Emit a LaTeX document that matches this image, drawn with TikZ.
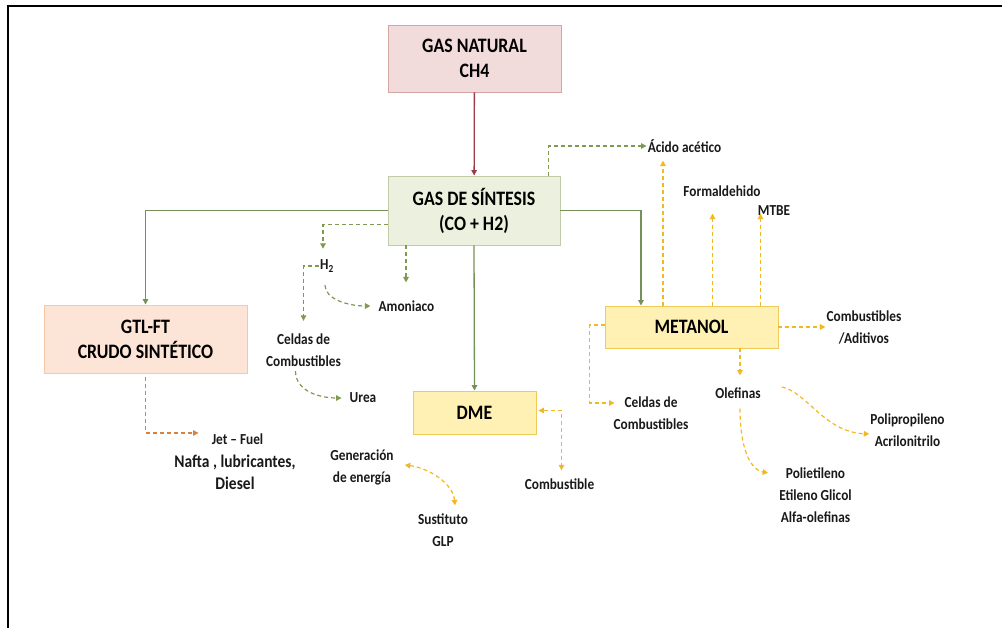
\documentclass[tikz,border=0pt]{standalone}
\usepackage{fontspec}
\setmainfont{Carlito}[FakeStretch=0.87]
\usetikzlibrary{arrows.meta}
\newcommand\myfs[2]{\fontsize{#1}{#2}\selectfont}
\definecolor{gline}{HTML}{76905A}
\definecolor{rline}{HTML}{9B3B4B}
\definecolor{gdashc}{HTML}{7F9A4F}
\definecolor{ydashc}{HTML}{F2B822}
\definecolor{odashc}{HTML}{D9823E}
\definecolor{pinkfill}{HTML}{F2DCDB}
\definecolor{pinkdraw}{HTML}{D4A5A5}
\definecolor{greenfill}{HTML}{EBF1DE}
\definecolor{greendraw}{HTML}{BFCCA6}
\definecolor{peachfill}{HTML}{FCE4D6}
\definecolor{peachdraw}{HTML}{F6C9A6}
\definecolor{yelfill}{HTML}{FFF1B3}
\definecolor{yeldraw}{HTML}{EFCB5A}
\begin{document}
\begin{tikzpicture}[x=1pt,y=-1pt,
  box/.style={draw, line width=0.9pt, font=\bfseries\myfs{20.5}{25}, align=center, inner sep=0pt, text=black},
  lab/.style={font=\bfseries\myfs{15.3}{22}, align=center, inner sep=1pt, text=black!90},
  arr/.style={-{Triangle[length=5.5pt,width=5.5pt]}},
  darr/.style={{Triangle[length=5.5pt,width=5.5pt]}-{Triangle[length=5.5pt,width=5.5pt]}},
  gsolid/.style={draw=gline, line width=1.3pt, arr},
  gdash/.style={draw=gdashc, line width=1.2pt, dash pattern=on 4pt off 3pt, arr},
  ydash/.style={draw=ydashc, line width=1.2pt, dash pattern=on 4pt off 3pt, arr},
  odash/.style={draw=odashc, line width=1.2pt, dash pattern=on 4pt off 3pt, arr}
]
\useasboundingbox (0,0) rectangle (1002,628);
\draw[line width=2pt] (8,628) -- (8,6) -- (1002,6);

% boxes
\node[box, fill=pinkfill, draw=pinkdraw, minimum width=173pt, minimum height=67pt] (gasnat) at (474.5,58.5) {GAS NATURAL\\CH4};
\node[box, fill=greenfill, draw=greendraw, minimum width=172pt, minimum height=69pt] (syn) at (474,210.5) {GAS DE SÍNTESIS\\(CO + H2)};
\node[box, fill=peachfill, draw=peachdraw, minimum width=203pt, minimum height=68pt] (gtl) at (145.5,339) {GTL-FT\\CRUDO SINTÉTICO};
\node[box, fill=yelfill, draw=yeldraw, minimum width=173pt, minimum height=42pt] (met) at (691.5,327) {METANOL};
\node[box, fill=yelfill, draw=yeldraw, minimum width=123pt, minimum height=43pt] (dme) at (474.5,412.5) {DME};

% labels
\node[lab] (h2) at (327,266) {H\textsubscript{2}};
\node[lab] (amon) at (406.5,306) {Amoniaco};
\node[lab] (celdas1) at (303.5,350.5) {Celdas de\\Combustibles};
\node[lab] (urea) at (363,398) {Urea};
\node[lab] (acido) at (684.5,146) {Ácido acético};
\node[lab] (formal) at (722,191) {Formaldehido};
\node[lab] (mtbe) at (774,211) {MTBE};
\node[lab] (combad) at (864,327) {Combustibles\\/Aditivos};
\node[lab] (olef) at (738,393) {Olefinas};
\node[lab] (celdas2) at (651,413) {Celdas de\\Combustibles};
\node[lab] (polie) at (815.5,495) {Polietileno\\Etileno Glicol\\Alfa-olefinas};
\node[lab] (polip) at (907.5,430) {Polipropileno\\Acrilonitrilo};
\node[lab] (combdme) at (559.5,484) {Combustible};
\node[lab] (gener) at (362,467) {Generación\\de energía};
\node[lab] (sust) at (443,530) {Sustituto\\GLP};
\node[lab] (jet) at (237.5,439) {Jet – Fuel};
\node[lab, font=\bfseries\myfs{17.8}{21.5}] (nafta) at (235,472.5) {Nafta , lubricantes,\\Diesel};

% solid connectors
\draw[draw=rline, line width=1.3pt, arr] (gasnat) -- (syn);
\draw[gsolid] (syn.west) -| (gtl.north);
\draw[gsolid] (syn.east) -| ([xshift=-50.5pt]met.north);
\draw[gsolid] (syn.south) -- (dme.north);

% green dashed
\draw[gdash] ([yshift=-14pt]syn.west) -| ([xshift=-4pt,yshift=10pt]h2.north);
\draw[gdash] ([xshift=-68pt]syn.south) -- ++(0,37);
\draw[gdash] ([xshift=74.5pt]syn.north) |- ([yshift=0pt]acido.west);
\draw[gdash] (h2.west) -| ([yshift=12pt]celdas1.north);
\draw[gdash] ([xshift=-2pt,yshift=-12pt]h2.south) .. controls +(0,14) and +(-22,0) .. ([xshift=-7pt]amon.west);
\draw[gdash] ([xshift=-8pt,yshift=-3pt]celdas1.south) .. controls +(0,20) and +(-22,0) .. ([xshift=-7pt]urea.west);

% yellow dashed from METANOL
\draw[ydash] ([xshift=-28.5pt]met.north) -- ++(0,-145);
\draw[ydash] ([xshift=21pt]met.north) -- ++(0,-92);
\draw[ydash] ([xshift=69pt]met.north) -- ++(0,-92);
\draw[ydash] (met.east) -- (met.east -| combad.west);
\draw[ydash] ([xshift=48.5pt]met.south) -- ++(0,27);
\draw[ydash] ([yshift=2pt]met.west) -- ++(-15,0) -- ++(0,78) -- ++(25,0);
\draw[ydash] ([xshift=2pt,yshift=-9pt]olef.south) .. controls +(0,35) and +(-20,-4) .. ([xshift=-10pt,yshift=22pt]polie.west);
\draw[ydash] ([xshift=20pt,yshift=6pt]olef.east) .. controls +(25,5) and +(-45,-2) .. ([yshift=-4pt]polip.west);

% DME
\draw[ydash, darr] ([xshift=2pt,yshift=2pt]dme.east) -| ([xshift=2pt,yshift=7pt]combdme.north);
\draw[ydash, darr] ([xshift=10pt,yshift=2pt]gener.east) .. controls +(24,3) and +(-2,-22) .. ([xshift=12pt,yshift=7pt]sust.north);

% GTL
\draw[odash] ([yshift=-4pt]gtl.south) |- ([xshift=-12pt,yshift=6pt]jet.west);
\end{tikzpicture}
\end{document}
